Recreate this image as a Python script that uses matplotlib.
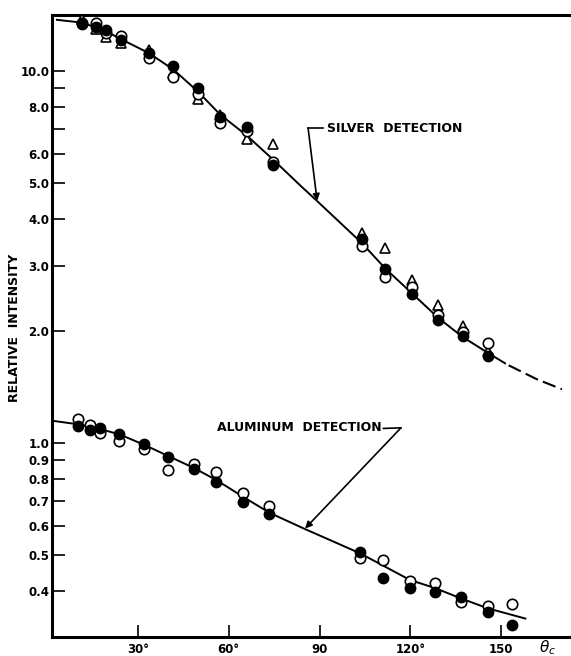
import matplotlib
matplotlib.use("Agg")
import matplotlib.pyplot as plt
from matplotlib.ticker import FixedLocator, NullLocator, FixedFormatter

# ---------------- data ----------------
# Silver detection
silver_theta = [11.6, 16.0, 19.4, 24.3, 33.6, 41.7, 49.9, 57.1, 65.9, 74.5,
                104.0, 111.6, 120.5, 129.3, 137.3, 145.8]
silver_open = [13.5, 13.45, 12.7, 12.45, 10.85, 9.65, 8.7, 7.27, 6.9, 5.71,
               3.39, 2.80, 2.63, 2.21, 1.99, 1.86]
silver_filled = [13.4, 13.18, 12.91, 12.14, 11.18, 10.35, 9.0, 7.55, 7.07, 5.60,
                 3.53, 2.94, 2.52, 2.14, 1.94, 1.72]
silver_tri = [13.85, 12.97, 12.34, 11.89, 11.41, 9.88, 8.41, 7.63, 6.56, 6.38,
              3.67, 3.34, 2.74, 2.35, 2.07, 1.77]

silver_curve_theta = [3.2, 11.6, 19.4, 24.3, 33.6, 41.7, 49.9, 57.1, 65.9, 74.5,
                      83.5, 89.4, 104.0, 111.7, 120.5, 129.3, 137.3, 145.8, 151.3]
silver_curve_val = [13.74, 13.5, 12.8, 12.2, 11.18, 10.1, 8.8, 7.65, 6.72, 5.80,
                    4.94, 4.46, 3.45, 2.95, 2.53, 2.17, 1.93, 1.746, 1.64]
silver_dash_theta = [152.5, 161.8, 170.1]
silver_dash_val = [1.62, 1.486, 1.397]

# Aluminum detection
al_theta = [10.3, 14.1, 17.4, 23.8, 32.1, 40.0, 48.6, 55.8, 64.6, 73.4,
            103.4, 111.1, 119.9, 128.2, 136.7, 145.6, 153.5]
al_open = [1.160, 1.120, 1.068, 1.016, 0.964, 0.848, 0.880, 0.836, 0.737, 0.678,
           0.491, 0.486, 0.427, 0.422, 0.374, 0.365, 0.370]
al_filled = [1.115, 1.086, 1.101, 1.057, 0.996, 0.920, 0.851, 0.788, 0.697, 0.644,
             0.511, 0.435, 0.409, 0.399, 0.387, 0.353, 0.325]

al_curve_theta = [1.5, 10.3, 17.4, 23.8, 32.1, 40.0, 48.6, 55.8, 64.6, 73.5,
                  85.2, 103.4, 119.9, 128.2, 136.7, 145.6, 158.0]
al_curve_val = [1.15, 1.124, 1.092, 1.057, 0.990, 0.924, 0.857, 0.797, 0.719, 0.650,
                0.588, 0.506, 0.429, 0.408, 0.383, 0.360, 0.338]

# axes ticks
y_ticks = [0.3, 0.4, 0.5, 0.6, 0.7, 0.8, 0.9, 1.0, 2.0, 3.0, 4.0, 5.0, 6.0, 7.0, 8.0, 9.0, 10.0]
y_labels = ["0.3", "0.4", "0.5", "0.6", "0.7", "0.8", "0.9", "1.0", "2.0", "3.0",
            "4.0", "5.0", "6.0", "", "8.0", "", "10.0"]
x_ticks = [30, 60, 90, 120, 150]
x_labels = ["30°", "60°", "90", "120°", "150"]

# ---------------- figure ----------------
W, H = 571, 656
fig = plt.figure(figsize=(W / 100, H / 100), dpi=100)
ax = fig.add_axes([52 / W, 19 / H, 1 - 52 / W, (637 - 14.5) / H])
ax.set_yscale("log")
ax.set_xlim(1.57, 173.1)
ax.set_ylim(0.3015, 14.2)

for s in ["left", "top", "bottom"]:
    ax.spines[s].set_linewidth(2.2)
ax.spines["right"].set_visible(False)

ax.yaxis.set_major_locator(FixedLocator(y_ticks))
ax.yaxis.set_major_formatter(FixedFormatter(y_labels))
ax.yaxis.set_minor_locator(NullLocator())
ax.set_xticks(x_ticks)
ax.set_xticklabels(x_labels)
ax.tick_params(axis="both", direction="in", length=9, width=1.2,
               labelsize=8.5, top=False, right=False)
ax.tick_params(axis="y", pad=2)
ax.tick_params(axis="x", pad=4)
for lab in ax.get_xticklabels() + ax.get_yticklabels():
    lab.set_fontweight("bold")

# curves
ax.plot(silver_curve_theta, silver_curve_val, color="black", lw=1.4, zorder=2)
ax.plot(silver_dash_theta, silver_dash_val, color="black", lw=1.5,
        linestyle=(0, (6.5, 2.6)), zorder=2)
ax.plot(al_curve_theta, al_curve_val, color="black", lw=1.4, zorder=2)

# markers
ax.plot(silver_theta, silver_tri, linestyle="none", marker="^", ms=7.5,
        mfc="white", mec="black", mew=1.2, zorder=3)
ax.plot(silver_theta, silver_open, linestyle="none", marker="o", ms=7.5,
        mfc="white", mec="black", mew=1.2, zorder=4)
ax.plot(silver_theta, silver_filled, linestyle="none", marker="o", ms=7.5,
        mfc="black", mec="black", mew=1.0, zorder=5)
ax.plot(al_theta, al_open, linestyle="none", marker="o", ms=7.5,
        mfc="white", mec="black", mew=1.2, zorder=4)
ax.plot(al_theta, al_filled, linestyle="none", marker="o", ms=7.5,
        mfc="black", mec="black", mew=1.0, zorder=5)

# annotations
ax.text(92.5, 7.0, "SILVER  DETECTION", fontsize=9, fontweight="bold",
        ha="left", va="center")
ax.plot([91.2, 86.2], [7.04, 7.04], color="black", lw=1.2)
ax.annotate("", xy=(89.2, 4.48), xytext=(86.2, 7.04),
            arrowprops=dict(arrowstyle="-|>", color="black", lw=1.2,
                            mutation_scale=10, shrinkA=0, shrinkB=0))

ax.text(56.1, 1.099, "ALUMINUM  DETECTION", fontsize=9, fontweight="bold",
        ha="left", va="center")
ax.plot([111.1, 116.9], [1.096, 1.10], color="black", lw=1.2)
ax.annotate("", xy=(85.2, 0.59), xytext=(116.9, 1.10),
            arrowprops=dict(arrowstyle="-|>", color="black", lw=1.2,
                            mutation_scale=10, shrinkA=0, shrinkB=0))

fig.text(15 / W, 1 - 328 / H, "RELATIVE  INTENSITY", rotation=90, fontsize=9,
         fontweight="bold", ha="center", va="center")
fig.text(548 / W, 1 - 648 / H, r"$\theta_c$", fontsize=11, ha="center", va="center")

fig.savefig("out.png", dpi=100)
